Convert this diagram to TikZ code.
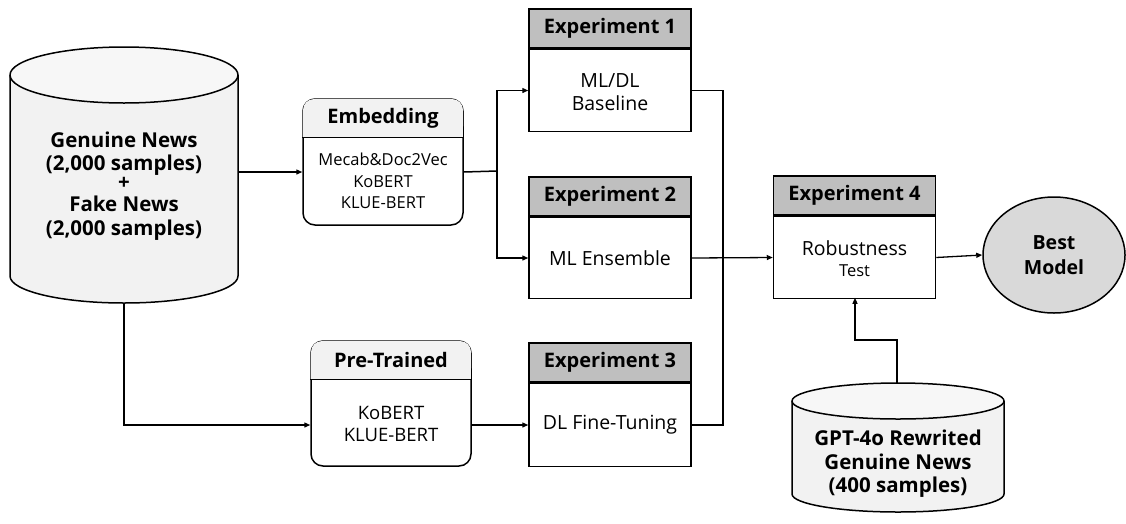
\documentclass[tikz,border=0pt]{standalone}
\usepackage{fontspec}
\setmainfont{Open Sans}
\usetikzlibrary{arrows.meta,shapes.geometric,calc}
\definecolor{hdrdark}{HTML}{BFBFBF}
\definecolor{hdrlight}{HTML}{F2F2F2}
\definecolor{dbbody}{HTML}{F2F2F2}
\definecolor{dbtop}{HTML}{F7F7F7}
\definecolor{bestfill}{HTML}{D9D9D9}
\begin{document}
\begin{tikzpicture}[x=1pt,y=1pt,
  line width=1.5pt,
  arr/.style={-{Triangle[length=6pt,width=5pt]}, line width=1.3pt},
  hdrtxt/.style={font=\fontsize{20}{24}\selectfont\bfseries},
  bodytxt/.style={font=\fontsize{19.5}{23}\selectfont, align=center},
  dbtxt/.style={font=\fontsize{20.5}{23.5}\selectfont\bfseries, align=center},
  expbox/.style={draw, fill=white, minimum width=162pt, inner sep=0pt},
  exphdr/.style={draw, fill=hdrdark, minimum width=162pt, minimum height=39pt, inner sep=0pt, hdrtxt},
]
\useasboundingbox (0,0) rectangle (1126,-523);

% ---- Database 1
\fill[dbbody] (10,-75) -- (10,-276) arc (180:360:114pt and 27pt) -- (238,-75) arc (0:180:114pt and 27pt) -- cycle;
\fill[dbtop] (124,-75) ellipse (114pt and 28pt);
\draw (10,-75) -- (10,-276) arc (180:360:114pt and 27pt) -- (238,-75) arc (0:180:114pt and 28pt) -- cycle;
\draw (10,-75) arc (180:360:114pt and 28pt);
\node[dbtxt] (db1) at (124,-186) {Genuine News\\(2,000 samples)\\[-5pt]+\\[-1pt]Fake News\\(2,000 samples)};
\coordinate (db1r) at (238,-172);
\coordinate (db1b) at (124,-303);

% ---- Database 2
\fill[dbbody] (792,-401) -- (792,-494) arc (180:360:106pt and 18pt) -- (1004,-401) arc (0:180:106pt and 18pt) -- cycle;
\fill[dbtop] (898,-401) ellipse (106pt and 18pt);
\draw (792,-401) -- (792,-494) arc (180:360:106pt and 18pt) -- (1004,-401) arc (0:180:106pt and 18pt) -- cycle;
\draw (792,-401) arc (180:360:106pt and 18pt);
\node[dbtxt] (db2) at (898,-464) {GPT-4o Rewrited\\Genuine News\\(400 samples)};
\coordinate (db2t) at (897,-383);

% ---- Embedding (rounded)
\node[draw, fill=white, rounded corners=12pt, minimum width=160pt, minimum height=126pt, inner sep=0pt] (emb) at (383,-162) {};
\fill[hdrlight, rounded corners=11pt] ([shift={(0.75,-0.75)}]emb.north west) rectangle ([shift={(-0.75,-39)}]emb.north east);
\fill[hdrlight] ([shift={(0.75,-20)}]emb.north west) rectangle ([shift={(-0.75,-39)}]emb.north east);
\draw ([yshift=-39pt]emb.north west) -- ([yshift=-39pt]emb.north east);
\node[hdrtxt] (embh) at ([yshift=-20pt]emb.north) {Embedding};
\node[bodytxt, font=\fontsize{16.5}{21.5}\selectfont] (embb) at (383,-181) {Mecab\&Doc2Vec\\KoBERT\\KLUE-BERT};

% ---- Pre-Trained (rounded)
\node[draw, fill=white, rounded corners=12pt, minimum width=160pt, minimum height=125pt, inner sep=0pt] (pre) at (391,-403.5) {};
\fill[hdrlight, rounded corners=11pt] ([shift={(0.75,-0.75)}]pre.north west) rectangle ([shift={(-0.75,-39)}]pre.north east);
\fill[hdrlight] ([shift={(0.75,-20)}]pre.north west) rectangle ([shift={(-0.75,-39)}]pre.north east);
\draw ([yshift=-39pt]pre.north west) -- ([yshift=-39pt]pre.north east);
\node[hdrtxt] (preh) at ([yshift=-20pt]pre.north) {Pre-Trained};
\node[bodytxt, font=\fontsize{18.5}{22}\selectfont] (preb) at (391,-424) {KoBERT\\KLUE-BERT};

% ---- Experiment boxes
\node[exphdr] (e1h) at (610,-28.5) {Experiment 1};
\node[expbox, anchor=north, minimum height=82pt] (e1) at (e1h.south) {};
\node[bodytxt] (e1t) at ([yshift=-2pt]e1) {ML/DL\\Baseline};

\node[exphdr] (e2h) at (610,-196.5) {Experiment 2};
\node[expbox, anchor=north, minimum height=81pt] (e2) at (e2h.south) {};
\node[bodytxt] (e2t) at (e2) {ML Ensemble};

\node[exphdr] (e3h) at (610,-362.5) {Experiment 3};
\node[expbox, anchor=north, minimum height=83pt] (e3) at (e3h.south) {};
\node[bodytxt] (e3t) at (e3) {DL Fine-Tuning};

\node[exphdr] (e4h) at (854.5,-195.5) {Experiment 4};
\node[expbox, anchor=north, minimum height=82pt] (e4) at (e4h.south) {};
\node[align=center, font=\fontsize{19.5}{21.5}\selectfont] (e4t) at ([yshift=-1pt]e4) {Robustness\\{\fontsize{16.5}{18}\selectfont Test}};

% ---- Best model
\node[draw, ellipse, fill=bestfill, minimum width=142pt, minimum height=116pt, inner sep=0pt,
      font=\fontsize{19.5}{25}\selectfont\bfseries, align=center] (best) at (1054,-255) {Best\\Model};

% ---- Connectors
\coordinate (split) at (497,-171);
\coordinate (merge) at (723,-257);
\draw[arr] (db1r) -- (db1r -| emb.west);
\draw (db1r -| emb.east) -- (split);
\draw[arr] (split) |- (e1.west);
\draw[arr] (split) |- (e2.west);
\draw[arr] (db1b) |- (pre.west |- e3.west);
\draw[arr] (pre.east |- e3.west) -- (e3.west);
\draw (e1.east) -| (merge);
\draw (e3.east) -| (merge);
\draw[arr] (e2.east) -- (e4.west);
\draw[arr] (e4.east) -- (best.west);
\draw[arr] (db2t) -- ++(0,43) -| (855,-297.8);
\end{tikzpicture}
\end{document}
